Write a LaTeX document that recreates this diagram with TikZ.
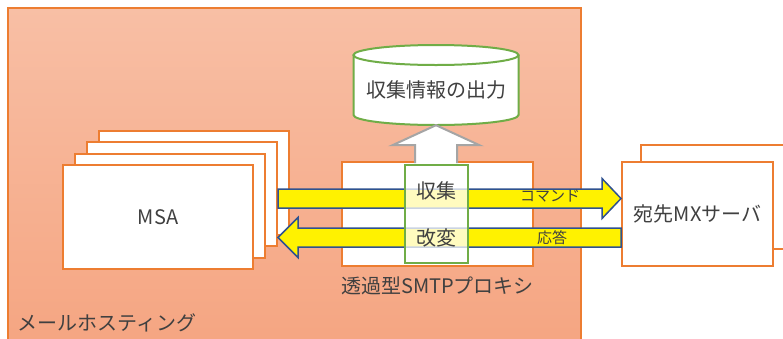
\documentclass[tikz,border=0pt]{standalone}
\usepackage{fontspec}
\setmainfont{Noto Sans CJK JP}
\usetikzlibrary{positioning,calc}
\definecolor{hostorange}{HTML}{ED7D31}
\definecolor{hosttop}{HTML}{F8BFA5}
\definecolor{hostbot}{HTML}{F5A480}
\definecolor{procgreen}{HTML}{70AD47}
\definecolor{arrowblue}{HTML}{2F528F}
\definecolor{txtgray}{HTML}{404040}
\definecolor{outgray}{HTML}{A5A5A5}
\begin{document}
\begin{tikzpicture}[x=1pt,y=-1pt,
  box/.style={draw=hostorange,line width=2pt,fill=white,inner sep=0pt},
  txt/.style={text=txtgray,font=\fontsize{20}{24}\selectfont,inner sep=0pt},
  smalltxt/.style={text=txtgray,font=\fontsize{15}{18}\selectfont,inner sep=0pt},
  yarrow/.style={draw=arrowblue,line width=1.5pt,fill=yellow},
  garrow/.style={draw=outgray,line width=2pt,fill=white}]
  \useasboundingbox (0,0) rectangle (783,338);

  \node[draw=hostorange,line width=2pt,top color=hosttop,bottom color=hostbot,
    minimum width=573pt,minimum height=352pt] (host) at (294.5,184) {};
  \node[txt,anchor=west] (hostlbl) at (17,323) {メールホスティング};

  \draw[draw=procgreen,line width=2pt,fill=white] (353.5,55) -- (353.5,115)
    arc[start angle=180,end angle=0,x radius=82.5,y radius=10] -- (518.5,55);
  \draw[draw=procgreen,line width=2pt,fill=white] (436,55) ellipse [x radius=82.5,y radius=10];
  \node[txt,minimum height=70pt] (out) at (436,90) {収集情報の出力};

  \foreach \i in {3,2,1}
    \node[box,minimum width=190pt,minimum height=104pt] (msa\i) at (158+12*\i,217-11.5*\i) {};
  \node[box,txt,minimum width=190pt,minimum height=104pt] (msa0) at (158,217) {MSA};

  \node[box,minimum width=191pt,minimum height=104pt] (proxy) at (437.5,214) {};
  \node[txt,below=10pt of proxy] (proxylbl) {透過型SMTPプロキシ};

  \node[box,minimum width=151pt,minimum height=104pt] (mxb) at (716.5,197) {};
  \node[box,txt,minimum width=151pt,minimum height=104pt] (mx) at (697.5,214) {宛先MXサーバ};

  \coordinate (ycmd) at (0,198.5);
  \coordinate (yans) at (0,237.5);
  \coordinate (cmdA) at (msa2.east |- ycmd);
  \coordinate (cmdB) at (mx.west |- ycmd);
  \coordinate (ansA) at (mx.west |- yans);
  \coordinate (ansB) at (msa2.east |- yans);

  \draw[yarrow] ($(cmdA)+(0,-9.5)$) -- ($(cmdB)+(-19,-9.5)$) -- ($(cmdB)+(-19,-20)$) -- (cmdB)
    -- ($(cmdB)+(-19,20)$) -- ($(cmdB)+(-19,9.5)$) -- ($(cmdA)+(0,9.5)$) -- cycle;
  \draw[yarrow] ($(ansA)+(0,-9.5)$) -- ($(ansB)+(20,-9.5)$) -- ($(ansB)+(20,-20)$) -- (ansB)
    -- ($(ansB)+(20,20)$) -- ($(ansB)+(20,9.5)$) -- ($(ansA)+(0,9.5)$) -- cycle;
  \node[smalltxt] (cmdlbl) at (550,196) {コマンド};
  \node[smalltxt] (anslbl) at (552,238) {応答};

  \node[draw=procgreen,line width=2pt,fill=white,fill opacity=0.75,
    minimum width=63pt,minimum height=98pt] (proc) at (436,214) {};
  \node[txt] (collect) at (436,191) {収集};
  \node[txt] (modify) at (436,238) {改変};

  \draw[garrow] ($(proc.north)+(-21,-1)$) -- ($(out.south)+(-21,20)$) -- ($(out.south)+(-43.5,20)$)
    -- (out.south) -- ($(out.south)+(43.5,20)$) -- ($(out.south)+(21,20)$) -- ($(proc.north)+(21,-1)$);
\end{tikzpicture}
\end{document}
